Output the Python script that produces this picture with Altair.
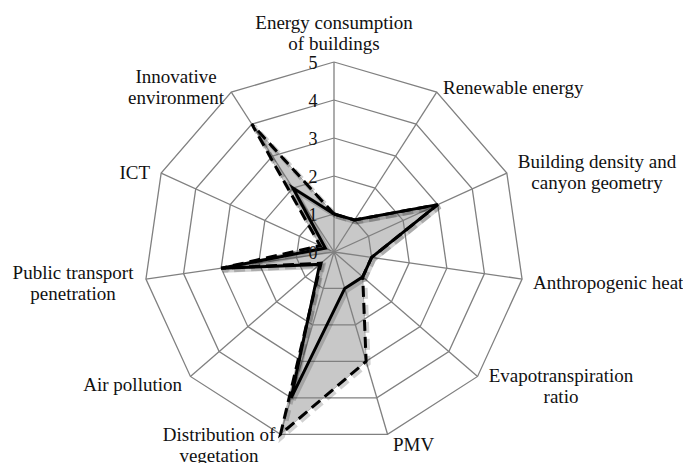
import math
import altair as alt
import pandas as pd

# ---------------- data ----------------
categories = [
    "Energy consumption\nof buildings",
    "Renewable energy",
    "Building density and\ncanyon geometry",
    "Anthropogenic heat",
    "Evapotranspiration\nratio",
    "PMV",
    "Distribution of\nvegetation",
    "Air pollution",
    "Public transport\npenetration",
    "ICT",
    "Innovative\nenvironment",
]
series_solid = [1, 1, 3, 1, 1, 1, 4, 0.5, 3, 0.25, 2]
series_dashed = [1, 1, 3, 1, 1, 3, 5, 0.45, 3, 0.4, 4]
series_fill = [1, 1, 3, 1, 1, 3, 5, 0.5, 3, 0.4, 4]
tick_values = [0, 1, 2, 3, 4, 5]

# ---------------- layout ----------------
W, H = 675, 455
MARGIN = 8
CX, CY = 334, 252          # centre of the radar in page pixels
UNIT = 38                  # pixels per value unit
RMAX = 5
SHADOW = 2.0               # px offset of the soft line shadow
n = len(categories)

# label anchor (page px, centre of first line) and alignment
label_layout = [
    (334, 23, "center"),
    (443, 88, "left"),
    (597, 162, "center"),
    (533, 283, "left"),
    (561, 376, "center"),
    (393, 445, "left"),
    (219, 435, "center"),
    (182, 385, "right"),
    (73, 273, "center"),
    (150, 173, "right"),
    (176, 77, "center"),
]
TICK_X = 313

x_dom = [(MARGIN - CX) / UNIT, (MARGIN + W - CX) / UNIT]
y_dom = [(CY - (MARGIN + H)) / UNIT, (CY - MARGIN) / UNIT]
xs = alt.Scale(domain=x_dom, nice=False, zero=False)
ys = alt.Scale(domain=y_dom, nice=False, zero=False)


def pol(v, i):
    a = 2 * math.pi * i / n
    return v * math.sin(a), v * math.cos(a)


def poly_df(values, name, off=0.0):
    rows = []
    for k in range(n + 1):
        i = k % n
        x, y = pol(values[i], i)
        rows.append({"x": x + off / UNIT, "y": y - off / UNIT, "idx": k, "s": name})
    return pd.DataFrame(rows)


# grid rings
ring_rows = []
for r in range(1, RMAX + 1):
    for k in range(n + 1):
        x, y = pol(r, k % n)
        ring_rows.append({"x": x, "y": y, "idx": k, "ring": r})
rings = pd.DataFrame(ring_rows)

spokes = pd.DataFrame(
    [{"x": 0, "y": 0, "x2": pol(RMAX, i)[0], "y2": pol(RMAX, i)[1]} for i in range(n)]
)

X = alt.X("x:Q", scale=xs, axis=None)
Y = alt.Y("y:Q", scale=ys, axis=None)

fill_layer = alt.Chart(poly_df(series_fill, "fill")).mark_line(
    fill="#c8c8c8", stroke="#b0b0b0", strokeWidth=1
).encode(x=X, y=Y, order="idx:Q")

ring_layer = alt.Chart(rings).mark_line(color="#808080", strokeWidth=1.3).encode(
    x=X, y=Y, order="idx:Q", detail="ring:N"
)
spoke_layer = alt.Chart(spokes).mark_rule(color="#808080", strokeWidth=1.3).encode(
    x=X, y=Y, x2="x2:Q", y2="y2:Q"
)

shadow_dashed = alt.Chart(poly_df(series_dashed, "dashed_sh", SHADOW)).mark_line(
    color="#000000", strokeWidth=5, strokeDash=[11, 6], opacity=0.18
).encode(x=X, y=Y, order="idx:Q")
shadow_solid = alt.Chart(poly_df(series_solid, "solid_sh", SHADOW)).mark_line(
    color="#000000", strokeWidth=5, opacity=0.18
).encode(x=X, y=Y, order="idx:Q")

dashed_layer = alt.Chart(poly_df(series_dashed, "dashed")).mark_line(
    color="#000000", strokeWidth=3, strokeDash=[11, 6]
).encode(x=X, y=Y, order="idx:Q")

solid_layer = alt.Chart(poly_df(series_solid, "solid")).mark_line(
    color="#000000", strokeWidth=3
).encode(x=X, y=Y, order="idx:Q")

tick_df = pd.DataFrame(
    {
        "x": [(TICK_X - CX) / UNIT] * len(tick_values),
        "y": [v - 2 / UNIT for v in tick_values],
        "t": [str(v) for v in tick_values],
    }
)
tick_layer = alt.Chart(tick_df).mark_text(
    font="Liberation Serif", fontSize=18, color="#111111", align="center", baseline="middle"
).encode(x=X, y=Y, text="t:N")

label_layers = []
for al in ["left", "center", "right"]:
    rows = [
        {"x": (px - CX) / UNIT, "y": (CY - py) / UNIT, "t": c}
        for c, (px, py, a) in zip(categories, label_layout)
        if a == al
    ]
    label_layers.append(
        alt.Chart(pd.DataFrame(rows)).mark_text(
            font="Liberation Serif", fontSize=19, lineHeight=21, lineBreak="\n",
            color="#111111", align=al, baseline="middle"
        ).encode(x=X, y=Y, text="t:N")
    )

chart = alt.layer(
    fill_layer, ring_layer, spoke_layer, shadow_dashed, shadow_solid,
    dashed_layer, solid_layer, tick_layer, *label_layers
).properties(
    width=W, height=H, padding=0, autosize=alt.AutoSizeParams(type="none")
).configure_view(stroke=None)

chart.save("out.html", embed_options={"renderer": "svg", "actions": False})
